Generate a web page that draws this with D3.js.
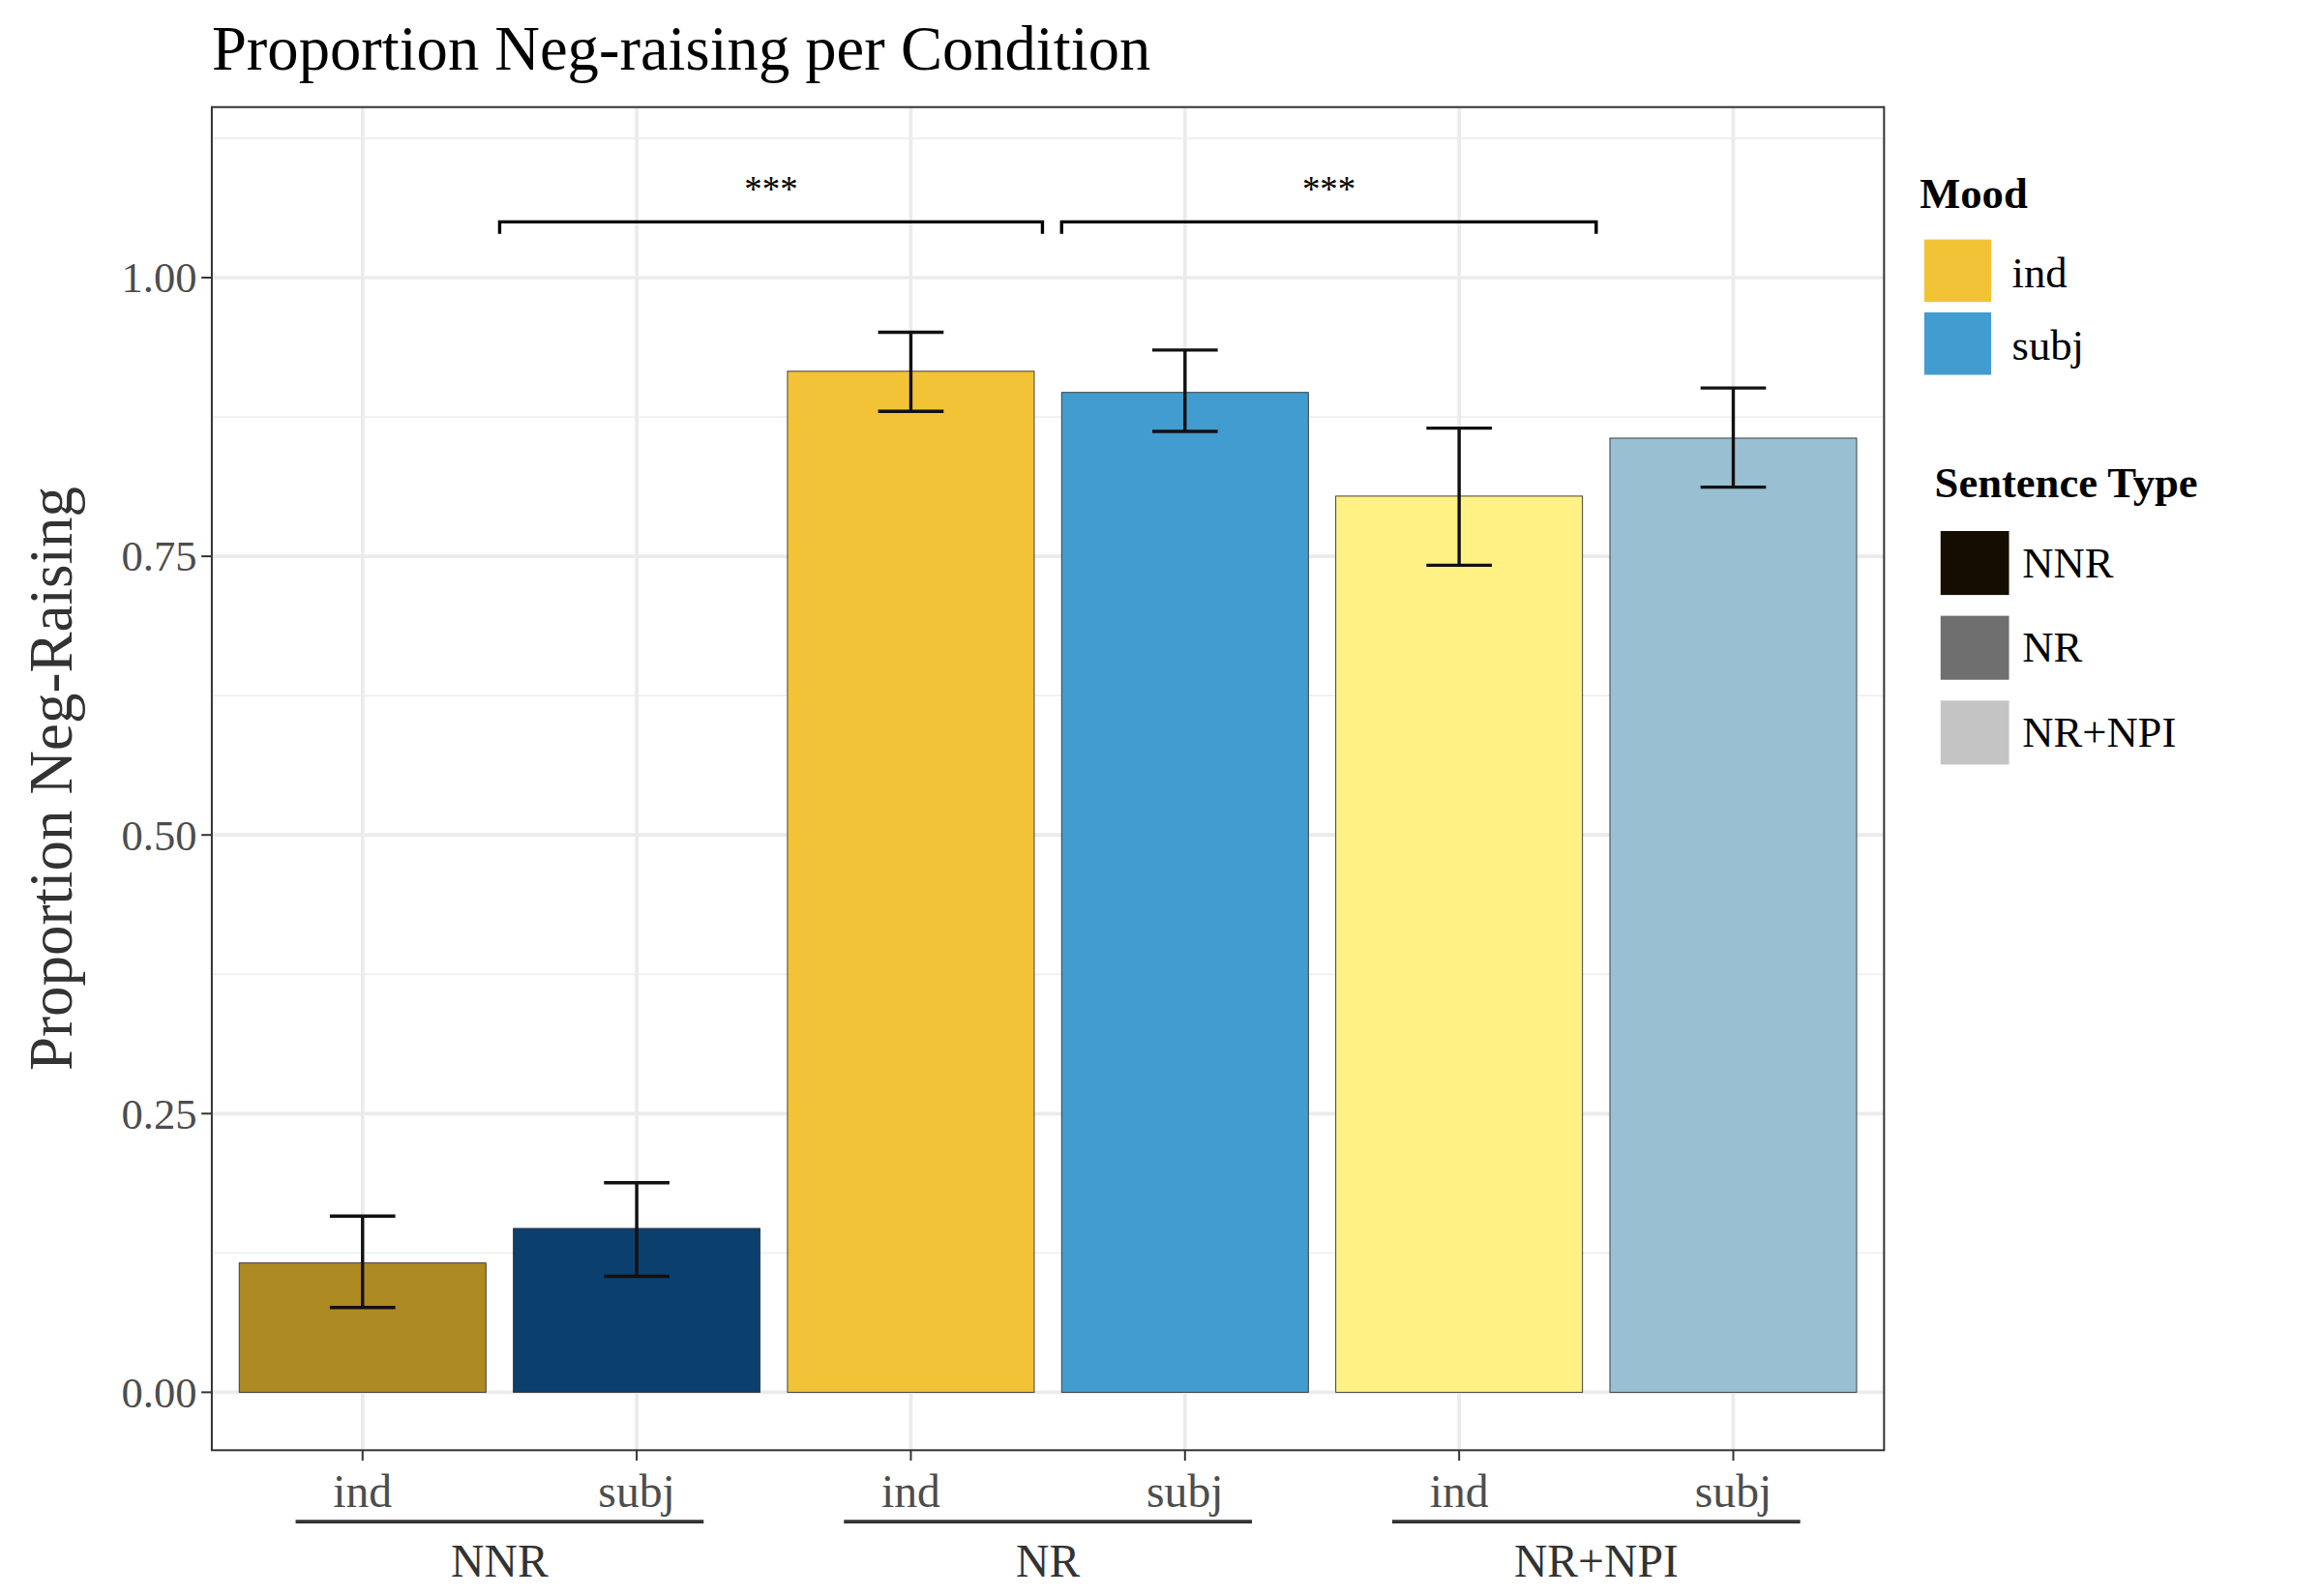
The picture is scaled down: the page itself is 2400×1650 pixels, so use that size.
<!DOCTYPE html>
<html><head><meta charset="utf-8">
<script src="https://d3js.org/d3.v7.min.js"></script>
<style>body{margin:0;background:#fff}text{font-family:"Liberation Serif","DejaVu Serif",serif}</style>
</head><body>
<svg id="chart" width="2400" height="1650" viewBox="0 0 1560 1073"></svg>
<script>
var groups = ['NNR', 'NR', 'NR+NPI'];
var moods = ['ind', 'subj'];
var values = [0.116, 0.147, 0.916, 0.897, 0.804, 0.856];
var lower = [0.076, 0.104, 0.880, 0.862, 0.742, 0.812];
var upper = [0.158, 0.188, 0.951, 0.935, 0.865, 0.901];
var colors = ['#AD8A22', '#0B3F6E', '#F2C336', '#439CCF', '#FFF184', '#99BFD2'];
var yTicks = [0, 0.25, 0.5, 0.75, 1];
var typeColors = ['#140D00', '#6F6F6F', '#C4C4C4'];

var svg = d3.select('#chart');
var L = 142, R = 1266, T = 72, B = 975;

var cats = [];
groups.forEach(function(g) { moods.forEach(function(m) { cats.push(g + '|' + m); }); });

var x = d3.scaleBand().domain(cats).range([L, R]).paddingInner(0.1).paddingOuter(0.1);
var y = d3.scaleLinear().domain([-0.052, 1.153]).range([B, T]);

// grid
var minor = d3.range(-0.125, 1.2, 0.25).filter(function(v) { return v > -0.052 && v < 1.153; });
svg.selectAll('.gmin').data(minor).enter().append('line')
  .attr('x1', L).attr('x2', R).attr('y1', function(d) { return y(d); }).attr('y2', function(d) { return y(d); })
  .attr('stroke', '#f0f0f0').attr('stroke-width', 1.2);
svg.selectAll('.gmaj').data(yTicks).enter().append('line')
  .attr('x1', L).attr('x2', R).attr('y1', function(d) { return y(d); }).attr('y2', function(d) { return y(d); })
  .attr('stroke', '#ebebeb').attr('stroke-width', 2.4);
svg.selectAll('.gx').data(cats).enter().append('line')
  .attr('x1', function(d) { return x(d) + x.bandwidth() / 2; }).attr('x2', function(d) { return x(d) + x.bandwidth() / 2; })
  .attr('y1', T).attr('y2', B).attr('stroke', '#ebebeb').attr('stroke-width', 2.4);

// bars
svg.selectAll('.bar').data(values).enter().append('rect')
  .attr('x', function(d, i) { return x(cats[i]); })
  .attr('width', x.bandwidth())
  .attr('y', function(d) { return y(d); })
  .attr('height', function(d) { return y(0) - y(d); })
  .attr('fill', function(d, i) { return colors[i]; })
  .attr('stroke', '#333').attr('stroke-width', 0.6);

// error bars
var ew = 22;
cats.forEach(function(c, i) {
  var cx = x(c) + x.bandwidth() / 2;
  var g = svg.append('g').attr('stroke', '#111').attr('stroke-width', 2.2);
  g.append('line').attr('x1', cx).attr('x2', cx).attr('y1', y(lower[i])).attr('y2', y(upper[i]));
  g.append('line').attr('x1', cx - ew).attr('x2', cx + ew).attr('y1', y(lower[i])).attr('y2', y(lower[i]));
  g.append('line').attr('x1', cx - ew).attr('x2', cx + ew).attr('y1', y(upper[i])).attr('y2', y(upper[i]));
});

// significance brackets
var brackets = [[0.5, 2.48], [2.55, 4.5]];
brackets.forEach(function(b) {
  var step = x.step();
  var x1 = x(cats[0]) + x.bandwidth() / 2 + b[0] * step;
  var x2 = x(cats[0]) + x.bandwidth() / 2 + b[1] * step;
  var yy = y(1.05);
  svg.append('path').attr('d', 'M' + x1 + ',' + (yy + 8) + 'V' + yy + 'H' + x2 + 'V' + (yy + 8))
    .attr('fill', 'none').attr('stroke', '#000').attr('stroke-width', 2.2);
  svg.append('text').attr('x', (x1 + x2) / 2).attr('y', yy - 14).attr('text-anchor', 'middle')
    .attr('font-size', 24).text('***');
});

// panel border
svg.append('rect').attr('x', L).attr('y', T).attr('width', R - L).attr('height', B - T)
  .attr('fill', 'none').attr('stroke', '#333').attr('stroke-width', 1.3);

// y axis
svg.selectAll('.yt').data(yTicks).enter().append('line')
  .attr('x1', L - 7).attr('x2', L).attr('y1', function(d) { return y(d); }).attr('y2', function(d) { return y(d); })
  .attr('stroke', '#333').attr('stroke-width', 1.3);
svg.selectAll('.yl').data(yTicks).enter().append('text')
  .attr('x', L - 10).attr('y', function(d) { return y(d) + 10; }).attr('text-anchor', 'end')
  .attr('font-size', 29).attr('fill', '#4d4d4d').text(function(d) { return d3.format('.2f')(d); });
svg.append('text').attr('transform', 'translate(48,' + ((T + B) / 2) + ') rotate(-90)')
  .attr('text-anchor', 'middle').attr('font-size', 41).attr('fill', '#333').text('Proportion Neg-Raising');

// x axis
svg.selectAll('.xt').data(cats).enter().append('line')
  .attr('x1', function(d) { return x(d) + x.bandwidth() / 2; }).attr('x2', function(d) { return x(d) + x.bandwidth() / 2; })
  .attr('y1', B).attr('y2', B + 7).attr('stroke', '#333').attr('stroke-width', 1.3);
svg.selectAll('.xl').data(cats).enter().append('text')
  .attr('x', function(d) { return x(d) + x.bandwidth() / 2; }).attr('y', 1013).attr('text-anchor', 'middle')
  .attr('font-size', 31).attr('fill', '#4d4d4d').text(function(d) { return d.split('|')[1]; });
groups.forEach(function(g, i) {
  var a = x(g + '|ind') + x.bandwidth() / 2, b = x(g + '|subj') + x.bandwidth() / 2;
  svg.append('line').attr('x1', a - 45).attr('x2', b + 45).attr('y1', 1023).attr('y2', 1023)
    .attr('stroke', '#333').attr('stroke-width', 2.4);
  svg.append('text').attr('x', (a + b) / 2).attr('y', 1060).attr('text-anchor', 'middle')
    .attr('font-size', 31).attr('fill', '#333').text(g);
});

// title
svg.append('text').attr('x', L).attr('y', 47).attr('font-size', 42).attr('fill', '#000')
  .text('Proportion Neg-raising per Condition');

// legends
svg.append('text').attr('x', 1290).attr('y', 140).attr('font-size', 29).attr('font-weight', 'bold').text('Mood');
moods.forEach(function(m, i) {
  svg.append('rect').attr('x', 1293).attr('y', 161 + i * 49).attr('width', 45).attr('height', 42).attr('fill', colors[2 + i]);
  svg.append('text').attr('x', 1352).attr('y', 193 + i * 49).attr('font-size', 29).text(m);
});
svg.append('text').attr('x', 1300).attr('y', 334).attr('font-size', 29).attr('font-weight', 'bold').text('Sentence Type');
groups.forEach(function(g, i) {
  svg.append('rect').attr('x', 1304).attr('y', 357 + i * 57).attr('width', 46).attr('height', 43).attr('fill', typeColors[i]);
  svg.append('text').attr('x', 1359).attr('y', 388 + i * 57).attr('font-size', 29).text(g);
});
</script>
</body></html>
